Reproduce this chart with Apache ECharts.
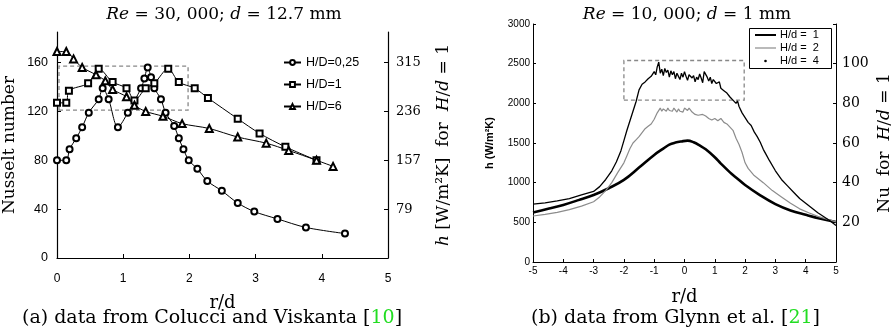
<!DOCTYPE html>
<html><head><meta charset="utf-8">
<script src="https://cdn.jsdelivr.net/npm/echarts@6/dist/echarts.min.js"></script>
<style>html,body{margin:0;padding:0;background:#fff}#c{width:895px;height:335px}</style>
</head><body><div id="c"></div>
<script>
// ---------- Panel (a): Colucci & Viskanta ----------
const rA025  = [0,0.14,0.19,0.29,0.38,0.48,0.63,0.69,0.78,0.92,1.07,1.27,1.32,1.37,1.42,1.47,1.57,1.64,1.77,1.84,1.91,1.99,2.12,2.27,2.49,2.73,2.98,3.33,3.76,4.35];
const nuA025 = [80,80,89,98,107,119,130,139,130,107,119,139,147,156,148,139,130,119,108,98,89,80,73,63,55,45,38,32,25,20];
const rA1    = [0,0.14,0.18,0.47,0.63,0.84,1.05,1.17,1.34,1.47,1.68,1.84,2.08,2.28,2.73,3.06,3.45,3.92];
const nuA1   = [127,127,137,143,155,144,139,129,139,143,155,144,139,131,114,102,91,80];
const rA6    = [0,0.14,0.25,0.38,0.59,0.73,0.84,1.05,1.17,1.34,1.6,1.89,2.3,2.73,3.16,3.5,3.92,4.17];
const nuA6   = [169,169,163,156,150,145,138,132,125,120,116,110,106,99,94,88,80,75];
const hTickLabelsA = ['', '79', '157', '236', '315'];   // right axis, at Nu = 0,40,80,120,160
const boxA = [[0.03,121],[1.98,157]];

// ---------- Panel (b): Glynn et al. ----------
const rB1 = [-5,-4.6,-4.2,-3.8,-3.4,-3.0,-2.8,-2.6,-2.4,-2.25,-2.1,-2.0,-1.9,-1.85,-1.8,-1.7,-1.6,-1.5,-1.4,-1.3,-1.2,-1.1,-1.0,-0.95,-0.9,-0.85,-0.8,-0.75,-0.7,-0.65,-0.6,-0.55,-0.5,-0.45,-0.4,-0.35,-0.3,-0.25,-0.2,-0.15,-0.1,-0.05,0,0.05,0.1,0.15,0.2,0.25,0.3,0.35,0.4,0.45,0.5,0.55,0.6,0.65,0.7,0.75,0.8,0.85,0.9,0.95,1.0,1.05,1.1,1.15,1.2,1.3,1.4,1.5,1.6,1.7,1.75,1.8,1.9,2.0,2.1,2.2,2.3,2.4,2.5,2.6,2.7,2.8,3.0,3.2,3.4,3.6,3.8,4.0,4.2,4.4,4.6,4.8,5.0];
const hB1 = [730,745,770,800,845,890,950,1040,1150,1260,1400,1530,1660,1640,1780,1900,2020,2170,2240,2270,2310,2340,2400,2360,2460,2520,2380,2430,2350,2440,2390,2420,2330,2410,2360,2400,2310,2380,2340,2300,2380,2330,2400,2340,2290,2360,2380,2320,2350,2270,2330,2300,2370,2320,2260,2400,2420,2330,2280,2330,2250,2300,2320,2250,2230,2270,2190,2160,2130,2080,2040,2000,2030,1960,1880,1820,1760,1720,1640,1580,1510,1420,1350,1280,1150,1040,960,880,800,740,680,620,570,520,460];
const rB2 = [-5,-4.6,-4.2,-3.8,-3.4,-3.0,-2.8,-2.6,-2.4,-2.2,-2.0,-1.9,-1.8,-1.7,-1.6,-1.5,-1.4,-1.3,-1.2,-1.1,-1.0,-0.95,-0.9,-0.85,-0.8,-0.75,-0.7,-0.65,-0.6,-0.55,-0.5,-0.45,-0.4,-0.35,-0.3,-0.25,-0.2,-0.15,-0.1,-0.05,0,0.05,0.1,0.15,0.2,0.25,0.3,0.35,0.4,0.45,0.5,0.6,0.7,0.8,0.9,1.0,1.1,1.2,1.3,1.4,1.5,1.6,1.7,1.8,1.9,2.0,2.1,2.3,2.6,2.9,3.2,3.5,3.8,4.1,4.4,4.7,5.0];
const hB2 = [580,600,625,660,705,760,820,900,1000,1130,1250,1340,1430,1500,1540,1580,1630,1680,1710,1740,1800,1780,1880,1860,1940,1900,1930,1920,1900,1940,1910,1930,1900,1940,1920,1890,1930,1900,1920,1890,1940,1930,1910,1940,1920,1890,1900,1860,1880,1850,1830,1860,1840,1810,1790,1810,1780,1810,1760,1740,1700,1660,1560,1480,1380,1250,1180,1090,1000,900,820,740,670,620,575,540,505];
const rB4 = [-5,-4.5,-4.0,-3.5,-3.0,-2.5,-2.0,-1.5,-1.0,-0.7,-0.5,-0.3,-0.1,0.1,0.3,0.5,0.7,1.0,1.2,1.5,1.75,2.0,2.5,3.0,3.5,4.0,4.5,5.0];
const hB4 = [625,670,720,780,845,930,1035,1190,1350,1430,1480,1505,1520,1530,1510,1470,1420,1320,1240,1130,1050,970,840,730,650,595,545,505];
const nuTickLabelsB = ['', '20', '40', '60', '80', '100', ''];  // right axis, at h = 0..3000 step 500
const boxB = [[-2.0,2040],[1.97,2540]];

const zip = (a, b) => a.map((v, i) => [v, b[i]]);
const SERIF = 'DejaVu Serif';
const SANS = 'Liberation Sans';

const chart = echarts.init(document.getElementById('c'), null, {renderer: 'canvas'});
const axisLineBlack = {show: true, onZero: false, lineStyle: {color: '#000', width: 1.2}};
const axisLineThin = {show: true, onZero: false, lineStyle: {color: '#000', width: 1}};
const ital = {fontFamily: SERIF, fontStyle: 'italic', fontSize: 17};

const option = {
  backgroundColor: '#fff',
  animation: false,
  title: [
    {text: '{i|Re} = 30, 000; {i|d} = 12.7 mm', left: 219, top: 1, textAlign: 'center',
     textStyle: {fontFamily: SERIF, fontSize: 17, fontWeight: 'normal', color: '#000', rich: {i: ital}}},
    {text: '{i|Re} = 10, 000; {i|d} = 1 mm', left: 682, top: 1, textAlign: 'center',
     textStyle: {fontFamily: SERIF, fontSize: 17, fontWeight: 'normal', color: '#000', rich: {i: ital}}}
  ],
  grid: [
    {left: 56, top: 32, width: 332, height: 226, containLabel: false},
    {left: 533, top: 24, width: 303, height: 238, containLabel: false}
  ],
  xAxis: [
    {gridIndex: 0, type: 'value', min: 0, max: 5, interval: 1,
     axisLine: axisLineBlack, axisTick: {inside: true, length: 4, lineStyle: {color: '#000'}},
     splitLine: {show: false},
     axisLabel: {fontFamily: SANS, fontSize: 12, color: '#000', margin: 15},
     name: 'r/d', nameLocation: 'middle', nameGap: 36,
     nameTextStyle: {fontFamily: SERIF, fontSize: 18, color: '#000'}},
    {gridIndex: 1, type: 'value', min: -5, max: 5, interval: 1,
     axisLine: axisLineThin, axisTick: {inside: true, length: 3, lineStyle: {color: '#000'}},
     splitLine: {show: false},
     axisLabel: {fontFamily: SANS, fontSize: 10, color: '#000', margin: 4},
     name: 'r/d', nameLocation: 'middle', nameGap: 26,
     nameTextStyle: {fontFamily: SERIF, fontSize: 18, color: '#000'}}
  ],
  yAxis: [
    {gridIndex: 0, type: 'value', min: 0, max: 185, interval: 40, position: 'left',
     axisLine: axisLineBlack, axisTick: {inside: true, length: 4, lineStyle: {color: '#000'}},
     splitLine: {show: false},
     axisLabel: {fontFamily: SANS, fontSize: 12.5, color: '#000', margin: 9, showMaxLabel: false},
     name: 'Nusselt number', nameLocation: 'middle', nameGap: 39, nameRotate: 90,
     nameTextStyle: {fontFamily: SERIF, fontSize: 17, color: '#000'}},
    {gridIndex: 0, type: 'value', min: 0, max: 185, interval: 40, position: 'right',
     axisLine: axisLineBlack, axisTick: {inside: true, length: 4, lineStyle: {color: '#000'}},
     splitLine: {show: false},
     axisLabel: {fontFamily: SERIF, fontSize: 13, color: '#000', margin: 8, showMaxLabel: false,
       formatter: v => hTickLabelsA[Math.round(v / 40)] || ''},
     name: '{i|h} [W/m²K]  for  {i|H}/{i|d} = 1', nameLocation: 'middle', nameGap: 47, nameRotate: 90,
     nameTextStyle: {fontFamily: SERIF, fontSize: 17, color: '#000', rich: {i: ital}}},
    {gridIndex: 1, type: 'value', min: 0, max: 3000, interval: 500, position: 'left',
     axisLine: axisLineThin, axisTick: {inside: true, length: 3, lineStyle: {color: '#000'}},
     splitLine: {show: false},
     axisLabel: {fontFamily: SANS, fontSize: 10, color: '#000', margin: 3, formatter: v => String(v)},
     name: 'h (W/m²K)', nameLocation: 'middle', nameGap: 38, nameRotate: 90,
     nameTextStyle: {fontFamily: SANS, fontSize: 11, fontWeight: 'bold', color: '#000'}},
    {gridIndex: 1, type: 'value', min: 0, max: 3000, interval: 500, position: 'right',
     axisLine: axisLineThin, axisTick: {inside: true, length: 3, lineStyle: {color: '#000'}},
     splitLine: {show: false},
     axisLabel: {fontFamily: SERIF, fontSize: 14, color: '#000', margin: 6,
       formatter: v => nuTickLabelsB[Math.round(v / 500)] || ''},
     name: 'Nu  for  {i|H}/{i|d} = 1', nameLocation: 'middle', nameGap: 40, nameRotate: 90,
     nameTextStyle: {fontFamily: SERIF, fontSize: 17, color: '#000', rich: {i: ital}}}
  ],
  legend: [{
    data: ['H/D=0,25', 'H/D=1', 'H/D=6'],
    orient: 'vertical', left: 278, top: 51, itemWidth: 17, itemHeight: 6, itemGap: 9,
    textStyle: {fontFamily: SANS, fontSize: 12.5, color: '#000'}
  }],
  series: [
    {name: 'H/D=0,25', type: 'line', xAxisIndex: 0, yAxisIndex: 0, data: zip(rA025, nuA025),
     smooth: 0.3, symbol: 'emptyCircle', symbolSize: 6,
     lineStyle: {color: '#000', width: 1}, itemStyle: {color: '#000', borderWidth: 1}},
    {name: 'H/D=1', type: 'line', xAxisIndex: 0, yAxisIndex: 0, data: zip(rA1, nuA1),
     smooth: 0.3, symbol: 'emptyRect', symbolSize: 6,
     lineStyle: {color: '#000', width: 1}, itemStyle: {color: '#000', borderWidth: 1},
     markArea: {silent: true, itemStyle: {color: 'rgba(0,0,0,0)', borderColor: '#888', borderWidth: 1.3, borderType: [4, 3]},
       data: [[{coord: boxA[0]}, {coord: boxA[1]}]]}},
    {name: 'H/D=6', type: 'line', xAxisIndex: 0, yAxisIndex: 0, data: zip(rA6, nuA6),
     smooth: 0.3, symbol: 'emptyTriangle', symbolSize: 7,
     lineStyle: {color: '#000', width: 1}, itemStyle: {color: '#000', borderWidth: 1}},
    {name: 'H/d = 4', type: 'line', xAxisIndex: 1, yAxisIndex: 2, data: zip(rB4, hB4),
     smooth: 0.4, showSymbol: false, lineStyle: {color: '#000', width: 2.6}},
    {name: 'H/d = 2', type: 'line', xAxisIndex: 1, yAxisIndex: 2, data: zip(rB2, hB2),
     showSymbol: false, lineStyle: {color: '#8c8c8c', width: 1.2}},
    {name: 'H/d = 1', type: 'line', xAxisIndex: 1, yAxisIndex: 2, data: zip(rB1, hB1),
     showSymbol: false, lineStyle: {color: '#000', width: 1.3},
     markArea: {silent: true, itemStyle: {color: 'rgba(0,0,0,0)', borderColor: '#888', borderWidth: 1.3, borderType: [4, 3]},
       data: [[{coord: boxB[0]}, {coord: boxB[1]}]]}}
  ],
  graphic: [
    // right panel legend box
    {type: 'rect', shape: {x: 749.5, y: 28.5, width: 82, height: 40}, style: {fill: '#fff', stroke: '#000', lineWidth: 1}, z: 100},
    {type: 'line', shape: {x1: 755, y1: 35, x2: 776, y2: 35}, style: {stroke: '#000', lineWidth: 2}, z: 101},
    {type: 'line', shape: {x1: 755, y1: 48, x2: 776, y2: 48}, style: {stroke: '#8c8c8c', lineWidth: 1.2}, z: 101},
    {type: 'circle', shape: {cx: 765.5, cy: 61, r: 1.3}, style: {fill: '#000'}, z: 101},
    {type: 'text', left: 780, top: 29, style: {text: 'H/d =  1', fontFamily: SANS, fontSize: 11, fill: '#000'}, z: 101},
    {type: 'text', left: 780, top: 42, style: {text: 'H/d =  2', fontFamily: SANS, fontSize: 11, fill: '#000'}, z: 101},
    {type: 'text', left: 780, top: 55, style: {text: 'H/d =  4', fontFamily: SANS, fontSize: 11, fill: '#000'}, z: 101},
    // captions
    {type: 'text', left: 22, top: 309, style: {rich: {g: {fill: '#22dd22', fontFamily: SERIF, fontSize: 19}},
      text: '(a) data from Colucci and Viskanta [{g|10}]', fontFamily: SERIF, fontSize: 19, fill: '#000'}},
    {type: 'text', left: 531, top: 309, style: {rich: {g: {fill: '#22dd22', fontFamily: SERIF, fontSize: 19}},
      text: '(b) data from Glynn et al. [{g|21}]', fontFamily: SERIF, fontSize: 19, fill: '#000'}}
  ]
};
chart.setOption(option);
</script>
</body></html>
